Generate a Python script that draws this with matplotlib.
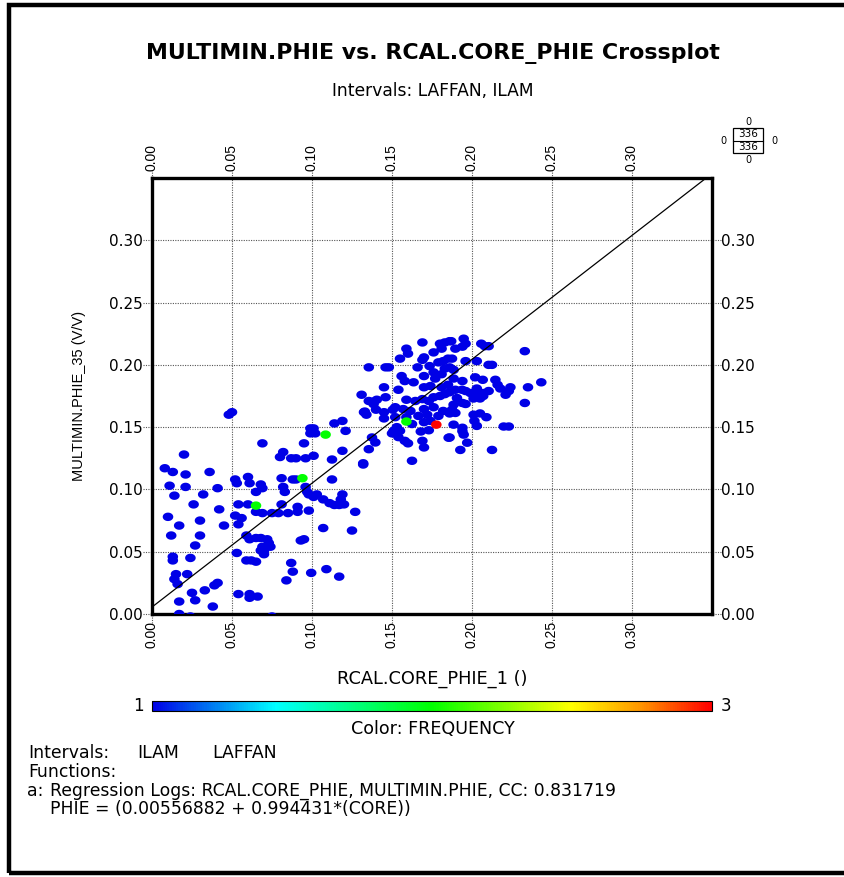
import numpy as np
import matplotlib
matplotlib.use("Agg")
import matplotlib.pyplot as plt
from matplotlib.colors import LinearSegmentedColormap
from matplotlib.patches import Rectangle
from matplotlib.lines import Line2D
import matplotlib as mpl

plt.rcParams['font.family'] = ['DejaVu Sans']
NARROW = ['Liberation Sans', 'DejaVu Sans']

# data (core porosity vs. log porosity)
core_phie = [
    # left cluster
    0.020, 0.008, 0.013, 0.021, 0.036, 0.011, 0.021, 0.014, 0.032, 0.041, 0.026, 0.042,
    0.010, 0.030, 0.017, 0.045, 0.012, 0.030, 0.027, 0.013, 0.013, 0.024, 0.015, 0.014,
    0.016, 0.022, 0.041, 0.039, 0.033, 0.025, 0.017, 0.027, 0.038, 0.017, 0.024,
    # middle
    0.048, 0.050, 0.069, 0.052, 0.053, 0.060, 0.061, 0.065, 0.069, 0.054, 0.060,
    0.052, 0.056, 0.054, 0.059, 0.061, 0.065, 0.068, 0.072, 0.053, 0.059, 0.062, 0.065,
    0.069, 0.070, 0.074, 0.054, 0.061, 0.061, 0.066, 0.075,
    0.1325, 0.119, 0.114, 0.099, 0.101, 0.099, 0.102, 0.121, 0.095, 0.082, 0.080, 0.087,
    0.090, 0.096, 0.101, 0.119, 0.1125, 0.132, 0.081, 0.088, 0.090, 0.1125, 0.068, 0.082,
    0.083, 0.096, 0.097, 0.098, 0.101, 0.103, 0.107, 0.119, 0.118, 0.111, 0.114, 0.117,
    0.120, 0.127, 0.081, 0.065, 0.069, 0.075, 0.079, 0.085, 0.091, 0.098, 0.091, 0.073,
    0.068, 0.070, 0.107, 0.125, 0.093, 0.095, 0.087, 0.088, 0.084, 0.0995, 0.109, 0.117,
    # right cluster
    0.169, 0.159, 0.160, 0.170, 0.169, 0.176, 0.180, 0.183, 0.186, 0.181, 0.155, 0.1735,
    0.1355, 0.146, 0.148, 0.166, 0.179, 0.182, 0.185, 0.183, 0.181, 0.186, 0.156, 0.158,
    0.170, 0.176, 0.177, 0.1635, 0.145, 0.154, 0.170, 0.174, 0.181, 0.185, 0.131, 0.146,
    0.1355, 0.1385, 0.1405, 0.1385, 0.159, 0.1646, 0.169, 0.173, 0.176, 0.180, 0.183, 0.186,
    0.152, 0.133, 0.134, 0.140, 0.157, 0.1615, 0.170, 0.176, 0.182, 0.186, 0.1665, 0.172,
    0.179, 0.145, 0.152, 0.159, 0.1625, 0.170, 0.174, 0.153, 0.151, 0.155, 0.150, 0.168,
    0.173, 0.186, 0.1375, 0.1396, 0.1355, 0.154, 0.158, 0.160, 0.169, 0.170, 0.132, 0.1625,
    0.145, 0.1505,
    0.187, 0.1948, 0.196, 0.194, 0.1896, 0.2058, 0.208, 0.2104, 0.233, 0.1875, 0.196, 0.203,
    0.2104, 0.2125, 0.1885, 0.202, 0.2067, 0.194, 0.1885, 0.2146, 0.216, 0.2177, 0.224, 0.223,
    0.235, 0.2433, 0.1896, 0.1938, 0.196, 0.199, 0.203, 0.204, 0.207, 0.2104, 0.221, 0.1906,
    0.1885, 0.194, 0.196, 0.205, 0.207, 0.201, 0.233, 0.1875, 0.1896, 0.201, 0.205, 0.209,
    0.2015, 0.203, 0.194, 0.2198, 0.223, 0.1885, 0.1854, 0.194, 0.1948, 0.197, 0.1927, 0.2125,
    # overlapping points (frequency > 1)
    0.065, 0.1085, 0.094, 0.159, 0.1777,
]
multimin_phie = [
    0.128, 0.117, 0.114, 0.112, 0.114, 0.103, 0.102, 0.095, 0.096, 0.101, 0.088, 0.084,
    0.078, 0.075, 0.071, 0.071, 0.063, 0.063, 0.055, 0.046, 0.043, 0.045, 0.032, 0.028,
    0.024, 0.032, 0.025, 0.023, 0.019, 0.017, 0.010, 0.011, 0.006, 0.000, -0.002,
    0.160, 0.162, 0.137, 0.108, 0.105, 0.110, 0.105, 0.098, 0.101, 0.088, 0.088,
    0.079, 0.077, 0.072, 0.063, 0.060, 0.061, 0.061, 0.060, 0.049, 0.043, 0.043, 0.042,
    0.054, 0.048, 0.054, 0.016, 0.016, 0.013, 0.014, -0.002,
    0.162, 0.155, 0.153, 0.149, 0.149, 0.145, 0.145, 0.147, 0.137, 0.130, 0.126, 0.125,
    0.125, 0.125, 0.127, 0.131, 0.124, 0.121, 0.109, 0.108, 0.108, 0.108, 0.104, 0.102,
    0.098, 0.102, 0.098, 0.096, 0.094, 0.096, 0.092, 0.096, 0.092, 0.089, 0.0875, 0.0875,
    0.088, 0.082, 0.088, 0.082, 0.081, 0.081, 0.081, 0.081, 0.082, 0.083, 0.086, 0.057,
    0.051, 0.051, 0.069, 0.067, 0.059, 0.060, 0.041, 0.034, 0.027, 0.033, 0.036, 0.030,
    0.218, 0.213, 0.209, 0.206, 0.204, 0.210, 0.217, 0.218, 0.219, 0.213, 0.205, 0.199,
    0.198, 0.198, 0.198, 0.198, 0.202, 0.203, 0.205, 0.197, 0.1925, 0.198, 0.191, 0.187,
    0.191, 0.194, 0.189, 0.186, 0.182, 0.180, 0.182, 0.183, 0.182, 0.184, 0.176, 0.174,
    0.171, 0.1705, 0.172, 0.1685, 0.172, 0.171, 0.1725, 0.171, 0.174, 0.175, 0.1765, 0.178,
    0.166, 0.1625, 0.160, 0.164, 0.1645, 0.163, 0.1645, 0.166, 0.163, 0.161, 0.159, 0.160,
    0.159, 0.157, 0.158, 0.158, 0.1525, 0.154, 0.155, 0.150, 0.147, 0.147, 0.145, 0.1465,
    0.1475, 0.1417, 0.1417, 0.1377, 0.1323, 0.142, 0.139, 0.137, 0.139, 0.1337, 0.120, 0.123,
    0.162, 0.164,
    0.219, 0.221, 0.217, 0.2146, 0.213, 0.217, 0.215, 0.215, 0.211, 0.205, 0.203, 0.203,
    0.200, 0.200, 0.196, 0.190, 0.188, 0.187, 0.189, 0.188, 0.184, 0.181, 0.182, 0.179,
    0.182, 0.186, 0.180, 0.180, 0.179, 0.1774, 0.181, 0.176, 0.1774, 0.179, 0.176, 0.1734,
    0.168, 0.1694, 0.1686, 0.173, 0.175, 0.173, 0.1694, 0.164, 0.1614, 0.160, 0.161, 0.158,
    0.155, 0.151, 0.1495, 0.1505, 0.1505, 0.152, 0.1415, 0.1468, 0.144, 0.1375, 0.1317, 0.1317,
    0.087, 0.144, 0.109, 0.1545, 0.152,
]
frequency = [1] * (len(core_phie) - 5) + [2, 2, 2, 2, 3]

tick_vals = [0.00, 0.05, 0.10, 0.15, 0.20, 0.25, 0.30]
reg_a, reg_b = 0.00556882, 0.994431

cmap = LinearSegmentedColormap.from_list(
    'freq', [(0.0, '#0000e6'), (0.22, '#00ffff'), (0.5, '#00ff00'),
             (0.75, '#ffff00'), (0.87, '#ff9900'), (1.0, '#ff0000')])

W, H = 845, 877
fig = plt.figure(figsize=(W / 100, H / 100), dpi=100)

def fx(px):
    return px / W

def fy(py):
    return 1 - py / H

ax = fig.add_axes([fx(152), fy(614), fx(712) - fx(152), fy(178) - fy(614)])
ax.set_xlim(0, 0.35)
ax.set_ylim(0, 0.35)

# dotted grid that runs a little past the frame
for t in tick_vals:
    ax.hlines(t, -0.016, 1.016, transform=ax.get_yaxis_transform(), colors='#555555',
              linestyles=(0, (1, 1.2)), lw=0.8, clip_on=False, zorder=1)
    ax.vlines(t, -0.02, 1.02, transform=ax.get_xaxis_transform(), colors='#555555',
              linestyles=(0, (1, 1.2)), lw=0.8, clip_on=False, zorder=1)

# slightly wide dots, like the original
tt = np.linspace(0, 2 * np.pi, 40)
oval = np.column_stack([1.25 * np.cos(tt), np.sin(tt)])

order = np.argsort(frequency, kind='stable')
xs = np.array(core_phie)[order]
ys = np.array(multimin_phie)[order]
cs = np.array(frequency)[order]
ax.scatter(xs, ys, c=cs, cmap=cmap, vmin=1, vmax=3, s=58, marker=oval,
           edgecolors='none', zorder=3)

lx = np.array([0.0, 0.35])
ax.plot(lx, reg_a + reg_b * lx, color='black', lw=0.9, zorder=4)

ax.set_xticks(tick_vals)
ax.set_yticks(tick_vals)
ax.set_xticklabels([f'{v:.2f}' for v in tick_vals], rotation=90, family=NARROW, fontsize=10)
ax.set_yticklabels([f'{v:.2f}' for v in tick_vals], fontsize=11)
for lab in ax.get_xticklabels(which='both'):
    lab.set_family(NARROW)
ax.tick_params(axis='both', length=0, top=True, right=True,
               labeltop=True, labelright=True)
ax.tick_params(axis='x', pad=5, labelsize=10)
ax.tick_params(axis='y', pad=6.5, labelsize=11)
for s in ax.spines.values():
    s.set_linewidth(2.4)

ax.set_xlabel('RCAL.CORE_PHIE_1 ()', fontsize=12.8)
ax.set_ylabel('MULTIMIN.PHIE_35 (V/V)', fontsize=10.5, family=NARROW)
ax.xaxis.set_label_coords(0.5, (614 - 670) / 436)
ax.yaxis.set_label_coords((86 - 152) / 560, 0.5)

fig.text(fx(433), fy(53), 'MULTIMIN.PHIE vs. RCAL.CORE_PHIE Crossplot', ha='center',
         va='center', fontsize=15.9, fontweight='bold')
fig.text(fx(433), fy(91), 'Intervals: LAFFAN, ILAM', ha='center', va='center', fontsize=12.3)

# colour scale
cax = fig.add_axes([fx(152), fy(711), fx(712) - fx(152), fy(701) - fy(711)])
cb = mpl.colorbar.ColorbarBase(cax, cmap=cmap, norm=mpl.colors.Normalize(1, 3),
                               orientation='horizontal')
cb.set_ticks([])
cb.outline.set_linewidth(0.8)
fig.text(fx(144), fy(706), '1', ha='right', va='center', fontsize=12)
fig.text(fx(721), fy(706), '3', ha='left', va='center', fontsize=12)
fig.text(fx(433), fy(729), 'Color: FREQUENCY', ha='center', va='center', fontsize=12.6)

# count box
bx0, bx1, by0, by1 = 733, 763, 128, 153
fig.patches.append(Rectangle((fx(bx0), fy(by1)), fx(bx1) - fx(bx0), fy(by0) - fy(by1),
                             transform=fig.transFigure, fill=False, lw=0.9, ec='black'))
fig.lines.append(Line2D([fx(bx0), fx(bx1)], [fy(140.5), fy(140.5)],
                        transform=fig.transFigure, color='black', lw=0.8))
bc = (bx0 + bx1) / 2
fig.text(fx(bc), fy(134.5), '336', ha='center', va='center', fontsize=7.5)
fig.text(fx(bc), fy(147), '336', ha='center', va='center', fontsize=7.5)
fig.text(fx(bc), fy(122), '0', ha='center', va='center', fontsize=7)
fig.text(fx(bc), fy(160), '0', ha='center', va='center', fontsize=7)
fig.text(fx(723), fy(140.5), '0', ha='center', va='center', fontsize=7)
fig.text(fx(774), fy(140.5), '0', ha='center', va='center', fontsize=7)

# notes at the bottom
fs = 12.4
fig.text(fx(28), fy(753), 'Intervals:', va='center', fontsize=fs)
fig.text(fx(137), fy(753), 'ILAM', va='center', fontsize=fs)
fig.text(fx(212), fy(753), 'LAFFAN', va='center', fontsize=fs)
fig.text(fx(28), fy(772), 'Functions:', va='center', fontsize=fs)
fig.text(fx(27), fy(791), 'a:', va='center', fontsize=fs)
fig.text(fx(50), fy(791), 'Regression Logs: RCAL.CORE_PHIE, MULTIMIN.PHIE, CC: 0.831719',
         va='center', fontsize=fs)
fig.text(fx(50), fy(809), 'PHIE = (0.00556882 + 0.994431*(CORE))', va='center', fontsize=fs)

# outer frame
fig.patches.append(Rectangle((fx(9), fy(873)), 1.0, fy(5) - fy(873),
                             transform=fig.transFigure, fill=False, lw=3.2, ec='black'))

fig.savefig('out.png', dpi=100)
